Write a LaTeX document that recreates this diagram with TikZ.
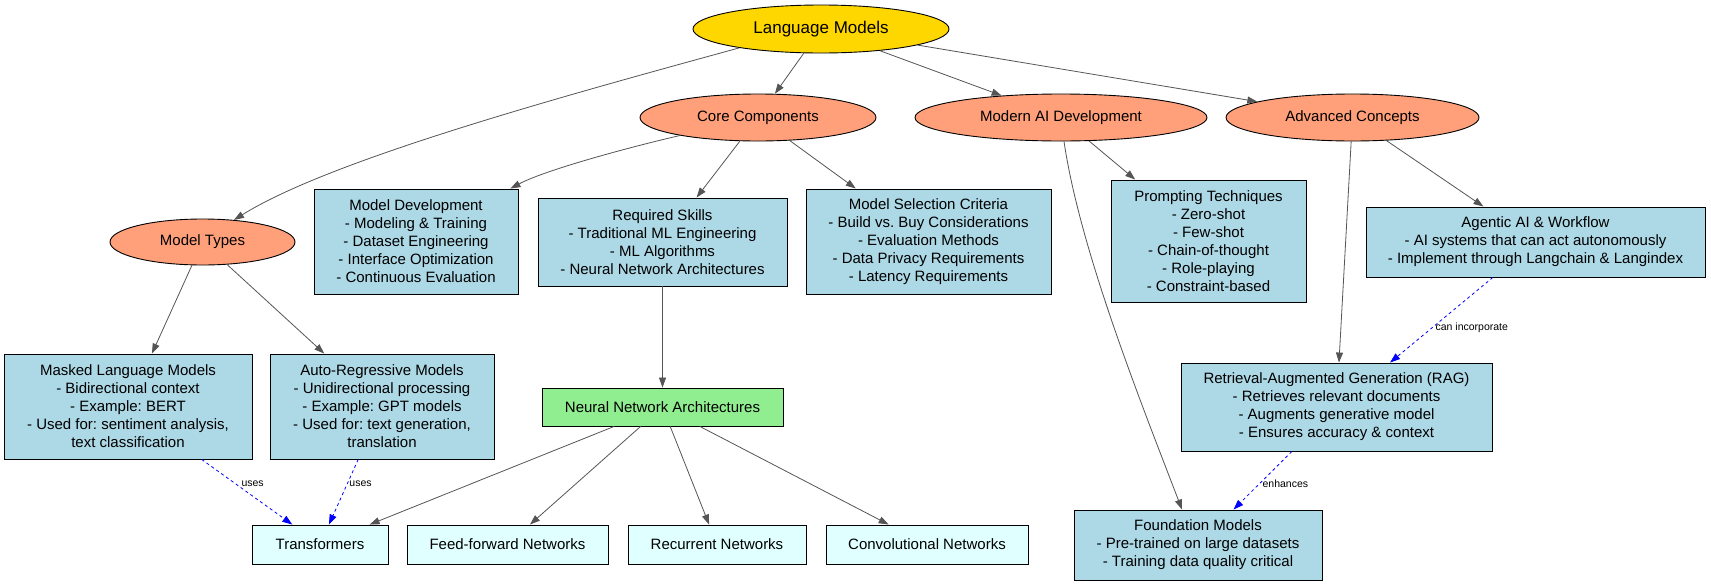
\documentclass[tikz,border=0pt]{standalone}
\usepackage{fontspec}
\setmainfont{Liberation Sans}
\usetikzlibrary{arrows.meta,shapes.geometric}
\definecolor{edgegray}{HTML}{555555}
\definecolor{goldc}{HTML}{FFD700}
\definecolor{salmonc}{HTML}{FFA07A}
\definecolor{bluebox}{HTML}{ADD8E6}
\definecolor{greenbox}{HTML}{90EE90}
\definecolor{cyanbox}{HTML}{E0FFFF}
\frenchspacing
\tikzset{
  basefont/.style={font=\fontsize{15}{18}\selectfont},
  ell/.style={ellipse, draw=black, line width=0.9pt, fill=salmonc, inner sep=0pt, basefont},
  bx/.style={rectangle, draw=black, line width=0.9pt, fill=bluebox, align=center, inner sep=0pt, basefont},
  leaf/.style={bx, fill=cyanbox},
  conn/.style={draw=edgegray, line width=0.8pt, -{Triangle[length=10pt,width=7pt]}},
  dconn/.style={draw=blue, dashed, line width=0.8pt, -{Triangle[length=10pt,width=7pt]}},
  elabel/.style={font=\fontsize{10.5}{12}\selectfont, text=black, inner sep=1pt}
}
\begin{document}
\begin{tikzpicture}[x=1pt,y=-1pt]
\useasboundingbox (0,0) rectangle (1711,584);
\fill[white] (0,0) rectangle (1711,584);

% ellipses
\node[ellipse, draw=black, line width=0.9pt, fill=goldc, inner sep=0pt, minimum width=256pt, minimum height=48pt, font=\fontsize{17}{20}\selectfont] (lm) at (821,29) {Language Models};
\node[ell, minimum width=236pt, minimum height=47pt] (cc) at (758,117.5) {Core Components};
\node[ell, minimum width=292pt, minimum height=47pt] (mad) at (1061,117.5) {Modern AI Development};
\node[ell, minimum width=253pt, minimum height=47pt] (adv) at (1352.5,117.5) {Advanced Concepts};
\node[ell, minimum width=185pt, minimum height=46pt] (mt) at (202.5,242) {Model Types};

% boxes
\node[bx, minimum width=204pt, minimum height=105pt] (md) at (416,241.5) {Model Development\\- Modeling \& Training\\- Dataset Engineering\\- Interface Optimization\\- Continuous Evaluation};
\node[bx, minimum width=249pt, minimum height=88pt] (rs) at (662.5,242) {Required Skills\\- Traditional ML Engineering\\- ML Algorithms\\- Neural Network Architectures};
\node[bx, minimum width=245pt, minimum height=105pt] (msc) at (928.5,241.5) {Model Selection Criteria\\- Build vs. Buy Considerations\\- Evaluation Methods\\- Data Privacy Requirements\\- Latency Requirements};
\node[bx, minimum width=195pt, minimum height=122pt] (pt) at (1208.5,241) {Prompting Techniques\\- Zero-shot\\- Few-shot\\- Chain-of-thought\\- Role-playing\\- Constraint-based};
\node[bx, minimum width=339pt, minimum height=70pt] (ag) at (1535.5,242) {Agentic AI \& Workflow\\- AI systems that can act autonomously\\- Implement through Langchain \& Langindex};
\node[bx, minimum width=248pt, minimum height=105pt] (mlm) at (128,406.5) {Masked Language Models\\- Bidirectional context\\- Example: BERT\\- Used for: sentiment analysis,\\text classification};
\node[bx, minimum width=224pt, minimum height=105pt] (arm) at (382,406.5) {Auto-Regressive Models\\- Unidirectional processing\\- Example: GPT models\\- Used for: text generation,\\translation};
\node[bx, fill=greenbox, minimum width=241pt, minimum height=38pt] (nna) at (662.5,407) {Neural Network Architectures};
\node[bx, minimum width=311pt, minimum height=88pt] (rag) at (1336.5,407) {Retrieval-Augmented Generation (RAG)\\- Retrieves relevant documents\\- Augments generative model\\- Ensures accuracy \& context};
\node[bx, minimum width=248pt, minimum height=70pt] (fm) at (1198,545) {Foundation Models\\- Pre-trained on large datasets\\- Training data quality critical};

\node[leaf, minimum width=136pt, minimum height=39pt] (tr) at (320,544.5) {Transformers};
\node[leaf, minimum width=201pt, minimum height=39pt] (ff) at (507.5,544.5) {Feed-forward Networks};
\node[leaf, minimum width=178pt, minimum height=39pt] (rn) at (717,544.5) {Recurrent Networks};
\node[leaf, minimum width=202pt, minimum height=39pt] (cn) at (927,544.5) {Convolutional Networks};

% connectors
\draw[conn] (lm.193) .. controls (560,97) and (330,160) .. (mt.35);
\draw[conn] (lm) -- (cc);
\draw[conn] (lm) -- (mad);
\draw[conn] (lm) -- (adv);
\draw[conn] (cc.193) .. controls (630,147) and (545,170) .. ([xshift=-8pt]md.north east);
\draw[conn] (cc) -- (rs);
\draw[conn] (cc) -- (msc);
\draw[conn] (mad) -- (pt);
\draw[conn] ([xshift=3pt]mad.south) .. controls (1080,250) and (1140,400) .. ([xshift=-16pt]fm.north);
\draw[conn] (adv) -- (rag);
\draw[conn] (adv) -- (ag);
\draw[conn] (mt) -- (mlm);
\draw[conn] (mt) -- (arm);
\draw[conn] (rs) -- (nna);
\draw[conn] (nna) -- (tr);
\draw[conn] (nna) -- (ff);
\draw[conn] (nna) -- (rn);
\draw[conn] (nna) -- (cn);

\draw[dconn] (mlm) -- node[pos=0.38, anchor=west, elabel, xshift=4pt] {uses} (tr);
\draw[dconn] (arm) -- node[pos=0.38, anchor=west, elabel, xshift=1pt] {uses} (tr);
\draw[dconn] (ag) -- node[pos=0.59, anchor=west, elabel, xshift=2pt] {can incorporate} (rag);
\draw[dconn] (rag) -- node[pos=0.56, anchor=west, elabel, xshift=2pt] {enhances} (fm);
\end{tikzpicture}
\end{document}
